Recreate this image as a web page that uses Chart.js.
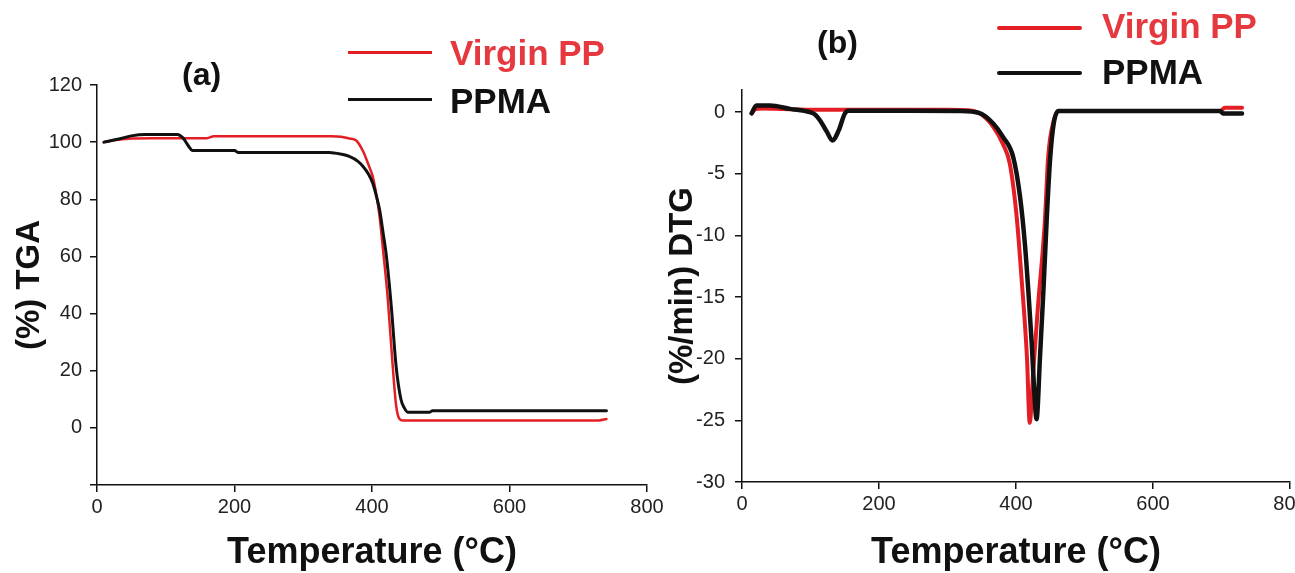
<!DOCTYPE html>
<html>
<head>
<meta charset="utf-8">
<script src="https://cdn.jsdelivr.net/npm/chart.js@4.4.1/dist/chart.umd.min.js"></script>
<style>
body { margin: 0; background: #fff; width: 1295px; height: 573px; overflow: hidden; position: relative; font-family: "Liberation Sans", Arial, sans-serif; }
canvas { position: absolute; top: 0; }
#tga { left: 0; }
#dtg { left: 660px; }
.lbl { position: absolute; font-weight: bold; white-space: nowrap; line-height: 1; color: #111; }
.red { color: #e5393f; }
.key { position: absolute; }
</style>
</head>
<body>
<canvas id="tga" width="680" height="573"></canvas>
<canvas id="dtg" width="635" height="573"></canvas>

<div class="lbl" style="left:182px;top:58px;font-size:32px">(a)</div>
<div class="key" style="left:348px;top:51px;width:84px;height:3px;background:#e31e24"></div>
<div class="lbl red" style="left:450px;top:35px;font-size:35px">Virgin PP</div>
<div class="key" style="left:348px;top:98px;width:84px;height:3px;background:#111"></div>
<div class="lbl" style="left:450px;top:83px;font-size:35px">PPMA</div>

<div class="lbl" style="left:817px;top:26px;font-size:32px">(b)</div>
<div class="key" style="left:997px;top:26px;width:85px;height:4px;background:#e31e24;border-radius:2px"></div>
<div class="lbl red" style="left:1102px;top:8px;font-size:35px">Virgin PP</div>
<div class="key" style="left:997px;top:71px;width:85px;height:4px;background:#111;border-radius:2px"></div>
<div class="lbl" style="left:1102px;top:54px;font-size:35px">PPMA</div>

<script>
// TGA (%) vs temperature
const tgaTempPP = [10, 30, 50, 80, 120, 160, 170, 250, 340, 355, 367, 377, 387, 395, 401, 406, 411, 416, 423, 430, 435, 440, 445, 600, 730, 741];
const tgaPP     = [100, 100.8, 101.3, 101.4, 101.4, 101.4, 102.1, 102.1, 102.1, 101.9, 101.3, 100.6, 96.8, 92, 88, 82, 74, 62.4, 45, 22, 8, 3.1, 2.6, 2.6, 2.6, 3.1];

const tgaTempPPMA = [10, 30, 50, 70, 117, 125, 132, 139, 200, 205, 338, 355, 367, 380, 387, 395, 401, 406, 411, 416, 421, 428, 435, 442, 447, 452, 484, 488, 741];
const tgaPPMA     = [100, 101, 102.2, 102.7, 102.7, 101.5, 99, 97.1, 97.1, 96.4, 96.4, 95.8, 95, 93.2, 91.5, 88.8, 85.7, 81.5, 76.4, 68.5, 60, 42.7, 21.7, 10.1, 7, 5.5, 5.5, 6, 6];

// DTG (%/min) vs temperature
const dtgTempPP = [14, 20, 30, 60, 100, 150, 200, 300, 330, 347, 367, 381, 391, 401, 408, 416, 420, 425, 432, 442, 447, 455, 462, 600, 698, 705, 730];
const dtgPP     = [-0.1, 0.25, 0.3, 0.25, 0.2, 0.2, 0.2, 0.2, 0.15, -0.1, -1.2, -2.6, -4.2, -8.5, -13.4, -19.9, -25.2, -21.2, -15.8, -9, -3.6, -0.7, 0.1, 0.1, 0.1, 0.35, 0.35];

const dtgTempPPMA = [14, 21, 41, 70, 99, 107, 114, 124, 132, 141, 150, 155, 250, 318, 347, 367, 381, 396, 406, 413, 418, 423, 426, 430, 435, 440, 445, 450, 455, 462, 698, 702, 730];
const dtgPPMA     = [-0.1, 0.55, 0.55, 0.27, 0, -0.2, -0.67, -1.6, -2.3, -1.5, -0.13, 0.12, 0.12, 0.1, -0.08, -0.94, -2.0, -3.65, -6.9, -10.7, -14.5, -18.8, -22, -24.9, -19.9, -14.5, -8.5, -3.65, -0.94, 0.1, 0.1, -0.1, -0.1];

const tempTicks = [0, 200, 400, 600, 800];
const tgaTicks = [-20, 0, 20, 40, 60, 80, 100, 120];
const dtgTicks = [-30, -25, -20, -15, -10, -5, 0];

const RED = '#e31e24';
const BLACK = '#111';
const FONT = '"Liberation Sans", Arial, sans-serif';

function points(xs, ys) {
    return xs.map((x, i) => ({ x: x, y: ys[i] }));
}

function setTicks(values) {
    return scale => { scale.ticks = values.map(v => ({ value: v })); };
}

function makeChart(id, cfg) {
    return new Chart(document.getElementById(id), {
        type: 'line',
        data: {
            datasets: [
                { data: points(cfg.blackX, cfg.blackY), borderColor: BLACK, borderWidth: cfg.blackWidth, order: 0 },
                { data: points(cfg.redX, cfg.redY), borderColor: RED, borderWidth: cfg.redWidth, order: 1 }
            ]
        },
        options: {
            responsive: false,
            animation: false,
            parsing: false,
            elements: {
                point: { radius: 0 },
                line: { cubicInterpolationMode: 'monotone', borderCapStyle: 'round', borderJoinStyle: 'round' }
            },
            layout: { padding: { top: cfg.top, right: cfg.right, left: 0, bottom: 0 } },
            plugins: { legend: { display: false }, tooltip: { enabled: false } },
            scales: {
                x: {
                    type: 'linear',
                    min: 0, max: 800,
                    afterBuildTicks: setTicks(tempTicks),
                    afterFit: s => { s.height = cfg.xHeight; s.paddingLeft = 0; s.paddingRight = 0; },
                    border: { color: BLACK, width: 1.5 },
                    grid: { drawOnChartArea: false, tickLength: 7, color: BLACK, lineWidth: 1.5 },
                    ticks: { color: '#222', padding: 3, maxRotation: 0, font: { family: FONT, size: 20 } },
                    title: {
                        display: true, text: 'Temperature (°C)', color: BLACK,
                        font: { family: FONT, size: 36, weight: 'bold', lineHeight: 1 },
                        padding: { top: 0, bottom: 2 }
                    }
                },
                y: {
                    min: cfg.yMin, max: cfg.yMax,
                    afterBuildTicks: setTicks(cfg.yTicks),
                    afterFit: s => { s.width = cfg.yWidth; },
                    border: { color: BLACK, width: 1.5 },
                    grid: { drawOnChartArea: false, tickLength: 7, color: BLACK, lineWidth: 1.5 },
                    ticks: {
                        color: '#222', padding: cfg.tickPad, font: { family: FONT, size: 20 },
                        callback: v => (cfg.hide.includes(v) ? '' : String(v))
                    },
                    title: {
                        display: true, text: cfg.yTitle, color: BLACK,
                        font: { family: FONT, size: cfg.yTitleSize, weight: 'bold', lineHeight: 1 },
                        padding: { top: cfg.yTitlePad, bottom: 0 }
                    }
                }
            }
        }
    });
}

makeChart('tga', {
    redX: tgaTempPP, redY: tgaPP, blackX: tgaTempPPMA, blackY: tgaPPMA,
    redWidth: 2.5, blackWidth: 3,
    yMin: -20, yMax: 120, yTicks: tgaTicks, hide: [-20],
    yTitle: '(%) TGA', yTitleSize: 33, yTitlePad: 13,
    top: 85, right: 33, xHeight: 88, yWidth: 97, tickPad: 8
});

makeChart('dtg', {
    redX: dtgTempPP, redY: dtgPP, blackX: dtgTempPPMA, blackY: dtgPPMA,
    redWidth: 4, blackWidth: 4.5,
    yMin: -30, yMax: 1.8, yTicks: dtgTicks, hide: [],
    yTitle: '(%/min) DTG', yTitleSize: 33, yTitlePad: 6,
    top: 90, right: 5, xHeight: 91, yWidth: 82, tickPad: 10
});
</script>
</body>
</html>
